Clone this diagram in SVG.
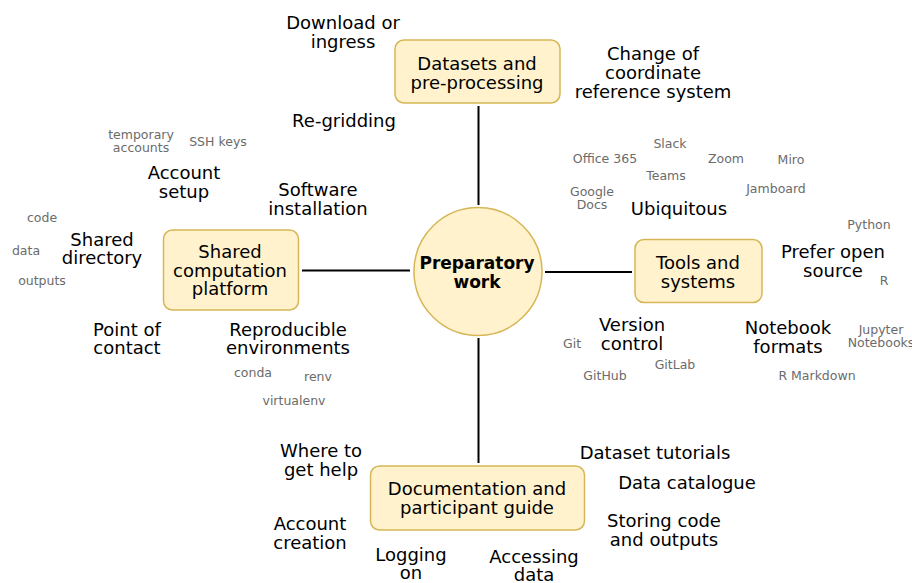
<svg xmlns="http://www.w3.org/2000/svg" width="912" height="583" viewBox="0 0 912 583">
<style>
.node{fill:#fff2cc;stroke:#d6b656;stroke-width:1.5}
.lbl{font-family:"DejaVu Sans",Verdana,sans-serif;font-size:18px;fill:#000;text-anchor:middle}
.sub{font-family:"DejaVu Sans",Verdana,sans-serif;font-size:12.5px;fill:#6b6b6b;text-anchor:middle}
.bold{font-weight:bold;font-size:17px}
.edge{stroke:#000;stroke-width:2;fill:none}
</style>
<rect width="912" height="583" fill="#fff"/>
<g id="connectors">
<line class="edge" x1="478.5" y1="106" x2="478.5" y2="205"/>
<line class="edge" x1="302" y1="270.5" x2="410" y2="270.5"/>
<line class="edge" x1="545" y1="272" x2="632" y2="272"/>
<line class="edge" x1="478.5" y1="338" x2="478.5" y2="463"/>
</g>
<g id="preparatory-work">
<circle class="node" cx="478" cy="271.5" r="64"/>
<text class="lbl bold" x="477" y="269">Preparatory</text>
<text class="lbl bold" x="477" y="288">work</text>
</g>
<g id="datasets">
<rect class="node" x="395" y="40" width="165" height="63" rx="9"/>
<text class="lbl" x="477" y="70">Datasets and</text>
<text class="lbl" x="477" y="89">pre-processing</text>
</g>
<g id="shared-platform">
<rect class="node" x="163.5" y="230" width="135" height="80" rx="9"/>
<text class="lbl" x="230" y="258">Shared</text>
<text class="lbl" x="230" y="277">computation</text>
<text class="lbl" x="230" y="295">platform</text>
</g>
<g id="tools">
<rect class="node" x="635" y="239.5" width="127" height="63" rx="9"/>
<text class="lbl" x="698" y="269">Tools and</text>
<text class="lbl" x="698" y="288">systems</text>
</g>
<g id="documentation">
<rect class="node" x="370.5" y="466" width="214" height="64" rx="9"/>
<text class="lbl" x="477" y="495">Documentation and</text>
<text class="lbl" x="477" y="514">participant guide</text>
</g>
<g id="labels">
<text class="lbl" x="343" y="29">Download or</text>
<text class="lbl" x="343" y="48">ingress</text>
<text class="lbl" x="653" y="60">Change of</text>
<text class="lbl" x="653" y="79">coordinate</text>
<text class="lbl" x="653" y="98">reference system</text>
<text class="lbl" x="344" y="127">Re-gridding</text>
<text class="sub" x="141" y="139">temporary</text>
<text class="sub" x="141" y="152">accounts</text>
<text class="sub" x="218" y="146">SSH keys</text>
<text class="lbl" x="184" y="179">Account</text>
<text class="lbl" x="184" y="198">setup</text>
<text class="lbl" x="318" y="196">Software</text>
<text class="lbl" x="318" y="215">installation</text>
<text class="sub" x="42" y="222">code</text>
<text class="sub" x="26" y="255">data</text>
<text class="sub" x="42" y="285">outputs</text>
<text class="lbl" x="102" y="246">Shared</text>
<text class="lbl" x="102" y="264">directory</text>
<text class="lbl" x="127" y="336">Point of</text>
<text class="lbl" x="127" y="354">contact</text>
<text class="lbl" x="288" y="336">Reproducible</text>
<text class="lbl" x="288" y="354">environments</text>
<text class="sub" x="253" y="377">conda</text>
<text class="sub" x="318" y="381">renv</text>
<text class="sub" x="294" y="405">virtualenv</text>
<text class="sub" x="670" y="148">Slack</text>
<text class="sub" x="605" y="163">Office 365</text>
<text class="sub" x="726" y="163">Zoom</text>
<text class="sub" x="791" y="164">Miro</text>
<text class="sub" x="666" y="180">Teams</text>
<text class="sub" x="776" y="193">Jamboard</text>
<text class="sub" x="592" y="196">Google</text>
<text class="sub" x="592" y="209">Docs</text>
<text class="lbl" x="679" y="215">Ubiquitous</text>
<text class="sub" x="869" y="229">Python</text>
<text class="lbl" x="833" y="258">Prefer open</text>
<text class="lbl" x="833" y="277">source</text>
<text class="sub" x="884" y="285">R</text>
<text class="lbl" x="632" y="331">Version</text>
<text class="lbl" x="632" y="350">control</text>
<text class="sub" x="572" y="348">Git</text>
<text class="sub" x="675" y="369">GitLab</text>
<text class="sub" x="605" y="380">GitHub</text>
<text class="lbl" x="788" y="334">Notebook</text>
<text class="lbl" x="788" y="353">formats</text>
<text class="sub" x="881" y="334">Jupyter</text>
<text class="sub" x="881" y="347">Notebooks</text>
<text class="sub" x="817" y="380">R Markdown</text>
<text class="lbl" x="321" y="457">Where to</text>
<text class="lbl" x="321" y="476">get help</text>
<text class="lbl" x="655" y="459">Dataset tutorials</text>
<text class="lbl" x="687" y="489">Data catalogue</text>
<text class="lbl" x="310" y="530">Account</text>
<text class="lbl" x="310" y="549">creation</text>
<text class="lbl" x="664" y="527">Storing code</text>
<text class="lbl" x="664" y="546">and outputs</text>
<text class="lbl" x="411" y="561">Logging</text>
<text class="lbl" x="411" y="579">on</text>
<text class="lbl" x="534" y="563">Accessing</text>
<text class="lbl" x="534" y="581">data</text>
</g>
</svg>
